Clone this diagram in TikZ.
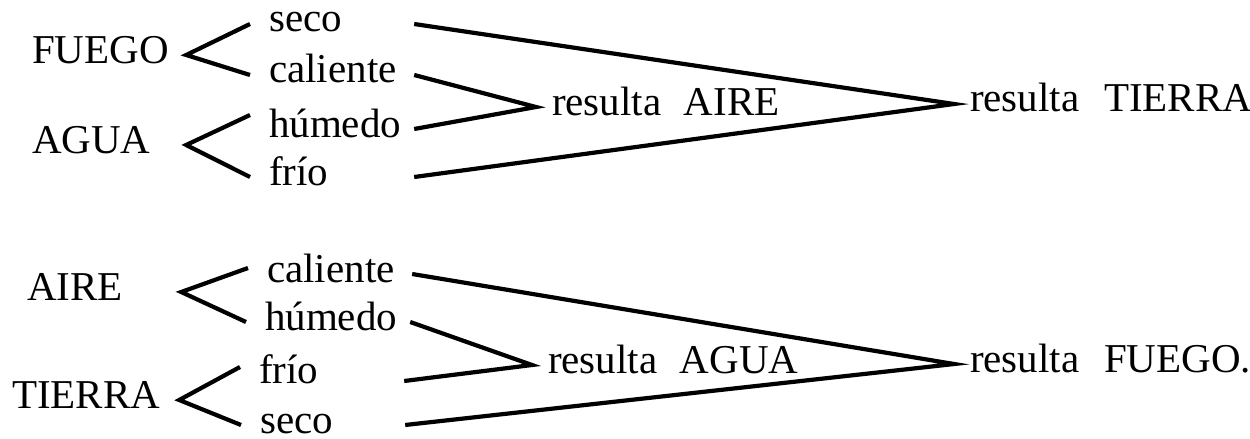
\documentclass[tikz,border=0pt]{standalone}
\usepackage{fontspec}
\setmainfont{Liberation Serif}
\usetikzlibrary{calc}

\begin{document}
\begin{tikzpicture}[x=0.5pt, y=-0.5pt, line width=2.1pt,
  txt/.style={inner ysep=0pt, text height=8pt, text depth=0pt, font=\fontsize{20.5pt}{24pt}\selectfont, anchor=base west},
  elem/.style={txt, inner xsep=0pt, text width=76pt, align=left},
  qual/.style={txt, inner xsep=8.5pt, text width=63pt, align=left},
  res/.style={txt, inner xsep=7pt}]

  \useasboundingbox (0,0) rectangle (1250,439);

  % first scheme
  \node[elem] (fuego) at (30,63) {FUEGO};
  \node[elem] (agua) at (30,153) {AGUA};

  \node[qual] (seco1) at (250,32) {seco};
  \node[qual] (cal1) at (250,83) {caliente};
  \node[qual] (hum1) at (250,137) {húmedo};
  \node[qual] (frio1) at (250,185) {frío};

  \node[res] (rAire) at (536,115) {resulta\hspace{0.3em} AIRE};
  \node[res] (rTierra) at (954,112) {resulta\hspace{0.35em} TIERRA};

  \draw (seco1.west) -- (fuego.east) -- (cal1.west);
  \draw ([yshift=7pt]hum1.west) -- (agua.east) -- (frio1.west);
  \draw (cal1.east) -- (rAire.west) -- (hum1.east);
  \draw (seco1.east) -- (rTierra.west) -- (frio1.east);

  % second scheme
  \node[elem] (aire) at (25,300) {AIRE};
  \node[elem, text width=82.5pt] (tierra) at (10,408) {TIERRA};

  \node[qual] (cal2) at (248,282) {caliente};
  \node[qual] (hum2) at (246,330) {húmedo};
  \node[qual] (frio2) at (240,383) {frío};
  \node[qual] (seco2) at (241,433) {seco};

  \node[res] (rAgua) at (532,373) {resulta\hspace{0.3em} AGUA};
  \node[res] (rFuego) at (954,372) {resulta\hspace{0.35em} FUEGO.};

  \draw ([yshift=3pt]cal2.west) -- (aire.east) -- (hum2.west);
  \draw ([yshift=4pt]frio2.west) -- (tierra.east) -- (seco2.west);
  \draw (hum2.east) -- (rAgua.west) -- ([yshift=-3pt]frio2.east);
  \draw (cal2.east) -- (rFuego.west) -- (seco2.east);
\end{tikzpicture}
\end{document}
